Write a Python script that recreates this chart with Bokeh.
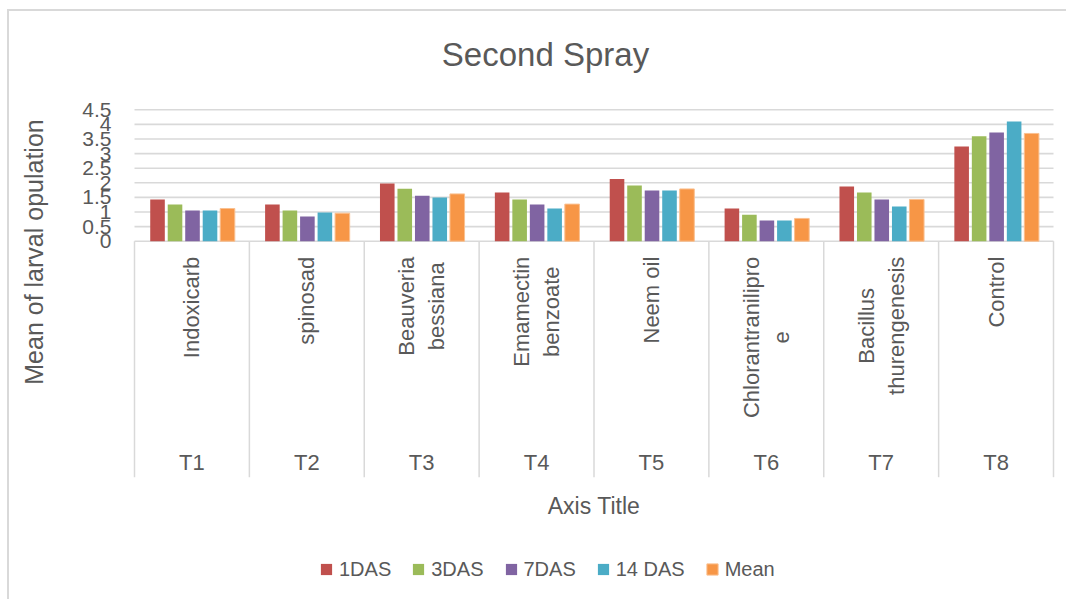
import numpy as np
from bokeh.plotting import figure
from bokeh.models import Range1d, FixedTicker, NumeralTickFormatter, Legend, LegendItem, LinearAxis
from bokeh.core.properties import value
from bokeh.embed import file_html
from bokeh.resources import INLINE

# ---------------- data ----------------
treatments = ["T1", "T2", "T3", "T4", "T5", "T6", "T7", "T8"]
products = ["Indoxicarb", "spinosad", "Beauveria\nbessiana", "Emamectin\nbenzoate",
            "Neem oil", "Chlorantranilipro\ne", "Bacillus\nthurengenesis", "Control"]
series_names = ["1DAS", "3DAS", "7DAS", "14 DAS", "Mean"]
das1 = [1.43, 1.26, 1.98, 1.67, 2.13, 1.12, 1.87, 3.24]
das3 = [1.26, 1.05, 1.80, 1.43, 1.91, 0.91, 1.67, 3.59]
das7 = [1.05, 0.85, 1.56, 1.26, 1.74, 0.71, 1.43, 3.72]
das14 = [1.05, 0.98, 1.50, 1.12, 1.74, 0.71, 1.19, 4.10]
mean = [1.12, 0.96, 1.62, 1.27, 1.79, 0.78, 1.43, 3.69]
y_ticks = [0, 0.5, 1, 1.5, 2, 2.5, 3, 3.5, 4, 4.5]
title_text = "Second Spray"
y_title = "Mean of larval opulation"
x_title = "Axis Title"

colors = ["#C0504D", "#9BBB59", "#8064A2", "#4BACC6", "#F79646"]
outlines = [None, None, None, None, "#FAC090"]

FONT = "Liberation Sans"
TXT = "#595959"
GRID = "#D9D9D9"

# ---------------- layout (page pixel geometry) ----------------
OX, OY = 9, 11                     # canvas origin in the page (css margin + border)
W, H = 1068 - OX, 601 - OY
PLOT_L, PLOT_R = 134.0, 1053.0      # page x of category 0 and 8
ZERO_Y, TOP_Y = 240.7, 109.3        # page y of value 0 and 4.5
n = len(treatments)
PPX = (PLOT_R - PLOT_L) / n
PPU = (ZERO_Y - TOP_Y) / y_ticks[-1]


def dx(px):
    return (px - PLOT_L) / PPX


def dy(py):
    return (ZERO_Y - py) / PPU


p = figure(width=W, height=H, min_border=0, min_border_left=0, min_border_right=0,
           min_border_top=0, min_border_bottom=0, title=None,
           x_axis_location=None, y_axis_location=None,
           x_range=Range1d(dx(OX), dx(1068)), y_range=Range1d(dy(601), dy(OY)),
           output_backend="svg", toolbar_location=None)
p.styles = {"margin-left": "7px", "margin-top": "9px",
            "border-left": "2px solid #D9D9D9", "border-top": "2px solid #D9D9D9"}
p.outline_line_color = None
p.grid.visible = False

# value gridlines (0 .. 4.5) across the category span
p.segment(x0=[0] * len(y_ticks), y0=y_ticks, x1=[n] * len(y_ticks), y1=y_ticks,
          line_color=GRID, line_width=1.6, level="underlay")

# y axis fixed at the left edge of the category span
yaxis = LinearAxis(fixed_location=0, ticker=FixedTicker(ticks=y_ticks),
                   formatter=NumeralTickFormatter(format="0.[0]"))
yaxis.axis_line_color = None
yaxis.major_tick_line_color = None
yaxis.minor_tick_line_color = None
yaxis.major_tick_out = 0
yaxis.major_tick_in = 0
yaxis.major_label_standoff = 23
yaxis.major_label_text_font = FONT
yaxis.major_label_text_font_size = "21px"
yaxis.major_label_text_color = TXT
p.add_layout(yaxis, "left")

# bars
xc = np.arange(n) + 0.5
step = 0.1523
bw = 0.127
all_series = [das1, das3, das7, das14, mean]
renderers = []
for k, (vals, col, oc) in enumerate(zip(all_series, colors, outlines)):
    xs = xc + (k - 2) * step + 0.005
    r = p.vbar(x=xs, top=vals, bottom=0, width=bw, fill_color=col,
               line_color=oc, line_width=1)
    renderers.append(r)

# category separators (tick marks of the two-level category axis)
bounds = list(range(n + 1))
p.segment(x0=bounds, y0=[0] * len(bounds), x1=bounds, y1=[dy(476.7)] * len(bounds),
          line_color=GRID, line_width=1.5)

# inner (rotated) product labels
AW = {'a': 556, 'b': 556, 'c': 500, 'd': 556, 'e': 556, 'g': 556, 'h': 556, 'i': 222,
      'l': 222, 'm': 833, 'n': 556, 'o': 556, 'p': 556, 'r': 333, 's': 500, 't': 278,
      'u': 556, 'v': 500, 'x': 500, 'z': 500, 'B': 667, 'C': 722, 'E': 667, 'I': 278,
      'N': 722, ' ': 278}


def tw(s, size):
    return sum(AW.get(c, 556) for c in s) * size / 1000.0


LAB_SIZE = 22
LAB_TOP = 256.2
single_x, single_y, single_t = [], [], []
multi_x, multi_y, multi_t = [], [], []
for i, name in enumerate(products):
    lines = name.split("\n")
    if len(lines) == 1:
        single_x.append(xc[i]); single_y.append(dy(LAB_TOP)); single_t.append(name)
    else:
        L = max(tw(s, LAB_SIZE) for s in lines)
        multi_x.append(xc[i]); multi_y.append(dy(LAB_TOP + L / 2)); multi_t.append(name)

p.text(x=single_x, y=single_y, text=single_t, angle=np.pi / 2,
       text_align="right", text_baseline="middle",
       text_font=value(FONT), text_font_size=f"{LAB_SIZE}px", text_color=TXT)
p.text(x=multi_x, y=multi_y, text=multi_t, angle=np.pi / 2,
       text_align="center", text_baseline="middle", text_line_height=1.2,
       text_font=value(FONT), text_font_size=f"{LAB_SIZE}px", text_color=TXT)

# outer treatment labels
p.text(x=xc, y=[dy(461.7)] * n, text=treatments, text_align="center",
       text_baseline="middle", text_font=value(FONT),
       text_font_size="22px", text_color=TXT)

# chart title, axis titles
p.text(x=[dx(545)], y=[dy(54.2)], text=[title_text], text_align="center",
       text_baseline="middle", text_font=value(FONT), text_font_size="33px",
       text_color=TXT)
p.text(x=[dx(33)], y=[dy(251.5)], text=[y_title], angle=np.pi / 2,
       text_align="center", text_baseline="middle", text_font=value(FONT),
       text_font_size="25px", text_color=TXT)
p.text(x=[n / 2], y=[dy(505.8)], text=[x_title], text_align="center",
       text_baseline="middle", text_font=value(FONT), text_font_size="23px",
       text_color=TXT)

# legend
legend = Legend(items=[LegendItem(label=s, renderers=[r]) for s, r in zip(series_names, renderers)],
                orientation="horizontal", location=(319 - OX, 601 - 580.5),
                glyph_width=14, glyph_height=14, label_height=14, label_standoff=6,
                spacing=20, padding=0, margin=0, border_line_color=None,
                background_fill_alpha=0, label_text_font=FONT,
                label_text_font_size="20px", label_text_color=TXT)
p.add_layout(legend)

open("out.html", "w").write(file_html(p, INLINE))
